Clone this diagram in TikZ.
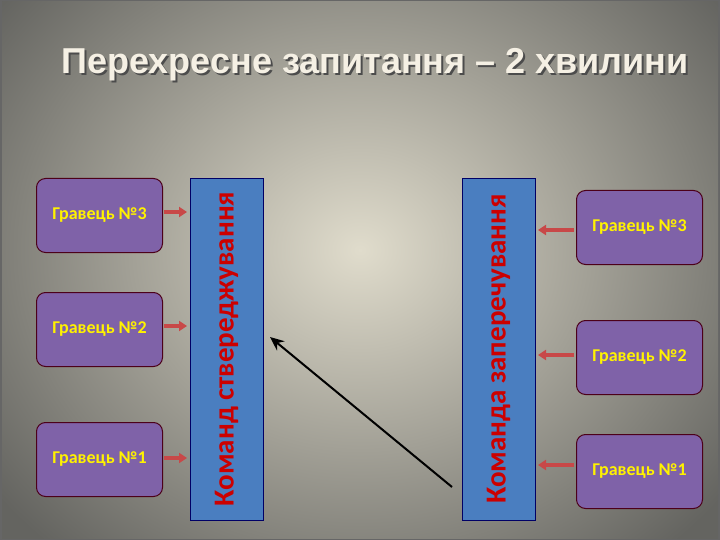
\documentclass[tikz,border=0pt]{standalone}
\usepackage{fontspec}
\setmainfont{Carlito}
\newfontfamily\titlefont{Liberation Sans}
\usetikzlibrary{arrows.meta}
\definecolor{plbox}{HTML}{7F62A8}
\definecolor{teamblue}{HTML}{4A7EC0}
\definecolor{arrowred}{HTML}{C84848}
\begin{document}
\begin{tikzpicture}[x=1pt,y=-1pt,
  player/.style={draw=purple!40!black,line width=1pt,fill=plbox,rounded corners=9pt,minimum width=126pt,minimum height=74pt,text=yellow,font=\bfseries\fontsize{18}{20}\selectfont,anchor=north west},
  team/.style={draw=blue!40!black,line width=0.8pt,fill=teamblue,minimum width=342pt,minimum height=73pt,text=red!80!black,font=\bfseries\fontsize{29}{31}\selectfont,rotate=90},
  redarrow/.style={-{Triangle[length=8pt,width=10pt]},line width=3.5pt,draw=arrowred}]
\useasboundingbox (0,0) rectangle (720,540);
\fill[black!60] (0,0) rectangle (720,540);
\begin{scope}
\clip (2,2) rectangle (718,538);
\shade[inner color={rgb,255:red,224;green,220;blue,204},outer color={rgb,255:red,100;green,100;blue,96}] (-100,-150) rectangle (820,650);
\end{scope}
\node[font=\titlefont\bfseries\fontsize{36}{40}\selectfont,text=black!70] (tsh) at (377,67) {Перехресне запитання – 2 хвилини};
\node[font=\titlefont\bfseries\fontsize{36}{40}\selectfont,text={rgb,255:red,245;green,240;blue,228}] (title) at (375,65) {Перехресне запитання – 2 хвилини};
\node[player] (l3) at (36,178) {Гравець №3};
\node[player] (l2) at (36,292) {Гравець №2};
\node[player] (l1) at (36,422) {Гравець №1};
\node[team] (tl) at (226.5,349) {Команд ствереджування};
\node[team] (tr) at (498.5,349) {Команда заперечування};
\node[player] (r3) at (576,190) {Гравець №3};
\node[player] (r2) at (576,320) {Гравець №2};
\node[player] (r1) at (576,434) {Гравець №1};
\coordinate (a3) at (164,212); \coordinate (b3) at (187,212);
\coordinate (a2) at (164,326); \coordinate (b2) at (187,326);
\coordinate (a1) at (164,458); \coordinate (b1) at (187,458);
\coordinate (c3) at (574,230); \coordinate (d3) at (538,230);
\coordinate (c2) at (574,355); \coordinate (d2) at (538,355);
\coordinate (c1) at (574,465); \coordinate (d1) at (538,465);
\foreach \i in {1,2,3} {
  \draw[redarrow] (a\i) -- (b\i);
  \draw[redarrow] (c\i) -- (d\i);
}
\coordinate (k1) at (452,487); \coordinate (k2) at (270,337);
\draw[-{Stealth[length=14pt,width=12pt]},line width=2pt] (k1) -- (k2);
\end{tikzpicture}
\end{document}
